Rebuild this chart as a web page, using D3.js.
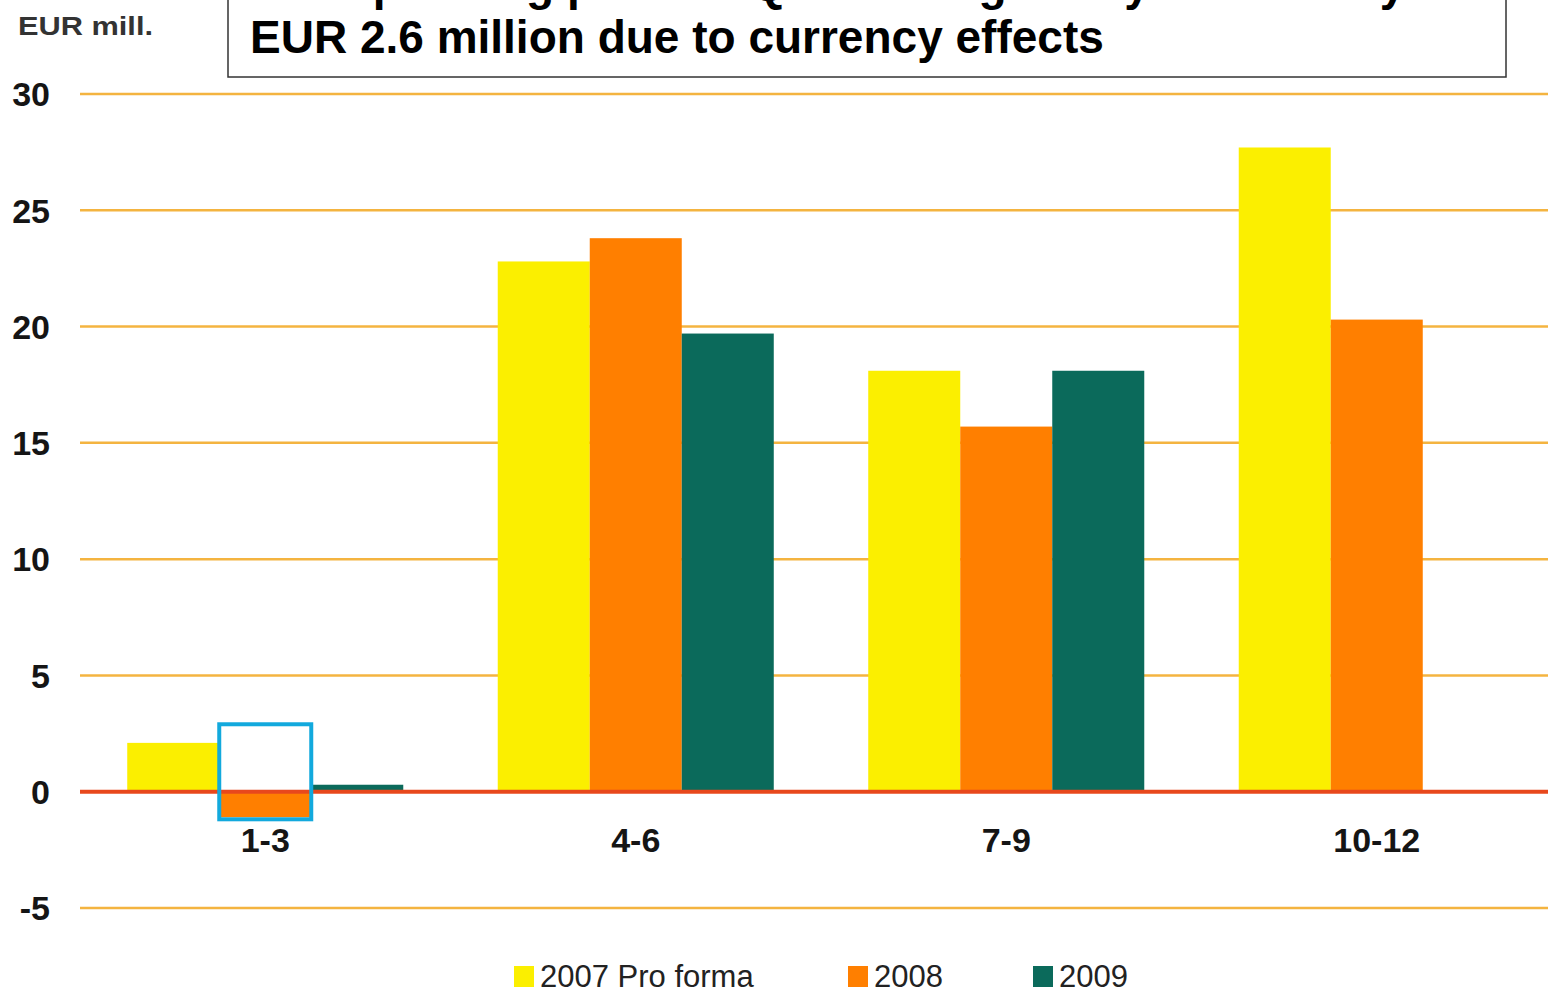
<!DOCTYPE html>
<html>
<head>
<meta charset="utf-8">
<script src="https://cdn.jsdelivr.net/npm/d3@7"></script>
<style>
  html, body { margin: 0; padding: 0; background: #fff; overflow: hidden; }
  svg { display: block; font-family: Arial, "Liberation Sans", Helvetica, sans-serif; }
</style>
</head>
<body>
<svg id="chart" width="1548" height="994"></svg>
<script>
// Quarterly operating profit, EUR million
const quarters = ["1-3", "4-6", "7-9", "10-12"];
const seriesNames = ["2007 Pro forma", "2008", "2009"];
const values2007 = [2.1, 22.8, 18.1, 27.7];
const values2008 = [-1.1, 23.8, 15.7, 20.3];
const values2009 = [0.3, 19.7, 18.1, null];
const seriesColors = ["#fbef00", "#ff7f00", "#0b6a5b"];
const yTicks = [-5, 0, 5, 10, 15, 20, 25, 30];
const titleLines = [
  "The operating profit in Q1 was negatively affected by",
  "EUR 2.6 million due to currency effects"
];
const unitLabel = "EUR mill.";
const highlighted = { quarter: "1-3", series: "2008" };

const seriesValues = [values2007, values2008, values2009];
const rows = quarters.map((q, i) => ({
  quarter: q,
  bars: seriesNames.map((s, j) => ({ series: s, value: seriesValues[j][i], color: seriesColors[j] }))
}));

const svg = d3.select("#chart");

const y = d3.scaleLinear().domain([-5, 30]).range([908, 94]);
const x0 = d3.scaleBand().domain(quarters).range([80, 1562]).paddingInner(0.255).paddingOuter(0.1275);
const x1 = d3.scaleBand().domain(seriesNames).range([0, x0.bandwidth()]).padding(0);

// horizontal grid
svg.append("g")
  .selectAll("line")
  .data(yTicks.filter(t => t !== 0))
  .join("line")
  .attr("x1", 80).attr("x2", 1548)
  .attr("y1", d => y(d)).attr("y2", d => y(d))
  .attr("stroke", "#f4b440").attr("stroke-width", 2.5);

// y tick labels
svg.append("g")
  .selectAll("text")
  .data(yTicks)
  .join("text")
  .attr("x", 50).attr("y", d => y(d))
  .attr("dy", "0.36em")
  .attr("text-anchor", "end")
  .attr("font-size", 34).attr("font-weight", "bold").attr("fill", "#151515")
  .text(d => d);

// bars
const groups = svg.append("g")
  .selectAll("g")
  .data(rows)
  .join("g")
  .attr("transform", d => `translate(${x0(d.quarter)},0)`);

groups.selectAll("rect")
  .data(d => d.bars.filter(b => b.value !== null))
  .join("rect")
  .attr("x", d => x1(d.series))
  .attr("width", x1.bandwidth())
  .attr("y", d => y(Math.max(0, d.value)))
  .attr("height", d => Math.abs(y(d.value) - y(0)))
  .attr("fill", d => d.color);

// zero line
svg.append("line")
  .attr("x1", 80).attr("x2", 1548)
  .attr("y1", y(0)).attr("y2", y(0))
  .attr("stroke", "#e8481c").attr("stroke-width", 4);

// highlight box around the negative 2008 Q1 bar
const hiVal = values2008[quarters.indexOf(highlighted.quarter)];
const hx = x0(highlighted.quarter) + x1(highlighted.series);
svg.append("rect")
  .attr("x", hx)
  .attr("y", y(2.9))
  .attr("width", x1.bandwidth())
  .attr("height", y(hiVal) - y(2.9) + 2)
  .attr("fill", "none")
  .attr("stroke", "#12a9dd")
  .attr("stroke-width", 4);

// category labels
svg.append("g")
  .selectAll("text")
  .data(quarters)
  .join("text")
  .attr("x", d => x0(d) + x0.bandwidth() / 2)
  .attr("y", 852)
  .attr("text-anchor", "middle")
  .attr("font-size", 34).attr("font-weight", "bold").attr("fill", "#151515")
  .text(d => d);

// unit label
svg.append("text")
  .attr("x", 18).attr("y", 35)
  .attr("font-size", 26).attr("font-weight", "bold").attr("fill", "#333")
  .attr("textLength", 135).attr("lengthAdjust", "spacingAndGlyphs")
  .text(unitLabel);

// title box
svg.append("rect")
  .attr("x", 228).attr("y", -10)
  .attr("width", 1278).attr("height", 87)
  .attr("fill", "#fff")
  .attr("stroke", "#333").attr("stroke-width", 1.5);

svg.append("g")
  .selectAll("text")
  .data(titleLines)
  .join("text")
  .attr("x", 250)
  .attr("y", (d, i) => i * 53)
  .attr("font-size", 46).attr("font-weight", "bold").attr("fill", "#000")
  .text(d => d);

// legend
const legend = svg.append("g")
  .selectAll("g")
  .data(seriesNames)
  .join("g")
  .attr("transform", (d, i) => `translate(${[514, 848, 1033][i]},966)`);

legend.append("rect")
  .attr("width", 20).attr("height", 21)
  .attr("fill", (d, i) => seriesColors[i]);

legend.append("text")
  .attr("x", 26).attr("y", 21)
  .attr("font-size", 31).attr("fill", "#222")
  .text(d => d);
</script>
</body>
</html>
